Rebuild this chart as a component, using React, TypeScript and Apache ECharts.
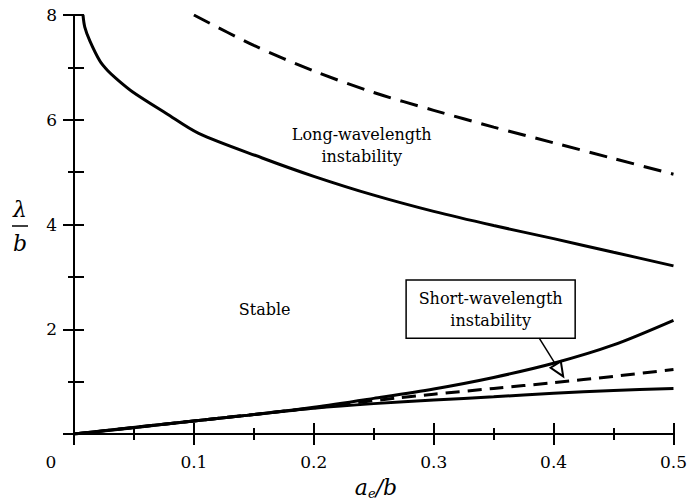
import React, { useEffect, useRef } from "react";
import * as echarts from "echarts";

const FONT = "DejaVu Serif";

// Long-wavelength boundaries
const longSolid: [number, number][] = [
  [0.0075, 8], [0.009, 7.77], [0.0133, 7.5], [0.0216, 7.12], [0.028, 6.94], [0.0355, 6.78], [0.049, 6.53],
  [0.077, 6.12], [0.104, 5.74], [0.157, 5.27], [0.2, 4.92], [0.25, 4.56], [0.3, 4.25],
  [0.35, 3.98], [0.4, 3.73], [0.45, 3.47], [0.5, 3.21],
];
const longDashed: [number, number][] = [
  [0.1, 8], [0.15, 7.42], [0.2, 6.93], [0.25, 6.52], [0.3, 6.18], [0.35, 5.86],
  [0.4, 5.56], [0.45, 5.26], [0.5, 4.96],
];
// Short-wavelength boundaries
const shortUpper: [number, number][] = [
  [0, 0], [0.05, 0.12], [0.1, 0.25], [0.15, 0.37], [0.2, 0.51], [0.25, 0.68],
  [0.3, 0.86], [0.35, 1.08], [0.4, 1.35], [0.45, 1.7], [0.5, 2.17],
];
const shortDashed: [number, number][] = [
  [0, 0], [0.1, 0.25], [0.2, 0.5], [0.27, 0.69], [0.3, 0.76], [0.35, 0.87],
  [0.4, 0.98], [0.45, 1.1], [0.5, 1.23],
];
const shortLower: [number, number][] = [
  [0, 0], [0.1, 0.25], [0.15, 0.37], [0.2, 0.49], [0.25, 0.58], [0.3, 0.65],
  [0.35, 0.71], [0.4, 0.78], [0.45, 0.83], [0.5, 0.87],
];

const labelLong = "Long-wavelength\ninstability";
const labelStable = "Stable";
const labelShort = "Short-wavelength\ninstability";

export default function App() {
  const ref = useRef<HTMLDivElement>(null);
  useEffect(() => {
    if (!ref.current) return;
    const chart = echarts.init(ref.current, undefined, { renderer: "svg" });
    const axisLine = { show: true, lineStyle: { color: "#000", width: 2 } };
    const tick = { show: true, length: 11, lineStyle: { color: "#000", width: 2 } };
    const minor = { show: true, splitNumber: 2, length: 6, lineStyle: { color: "#000", width: 2 } };
    const lineSeries = (data: [number, number][], dashed: boolean, dash: number[] = [18, 10]) => ({
      type: "line",
      data,
      smooth: 0.3,
      showSymbol: false,
      symbol: "none",
      lineStyle: { color: "#000", width: 3, type: dashed ? dash : "solid" },
      z: 3,
    });
    chart.setOption({
      animation: false,
      backgroundColor: "#fff",
      grid: { left: 74, top: 15, right: 13, bottom: 68 },
      xAxis: [
        {
          type: "value", min: 0, max: 0.5, interval: 0.1, position: "bottom",
          axisLine, axisTick: tick, minorTick: minor, splitLine: { show: false },
          axisLabel: {
            color: "#000", fontFamily: FONT, fontSize: 17, margin: 19,
            formatter: (v: number) => (v === 0 ? "" : String(Number(v.toFixed(1)))),
            showMaxLabel: true,
          },
        },
        {
          type: "value", min: 0, max: 0.5, interval: 0.1, position: "top",
          axisLine, axisTick: tick, minorTick: minor, splitLine: { show: false },
          axisLabel: { show: false },
        },
      ],
      yAxis: [
        {
          type: "value", min: 0, max: 8, interval: 2, position: "left",
          axisLine, axisTick: tick, minorTick: minor, splitLine: { show: false },
          axisLabel: {
            color: "#000", fontFamily: FONT, fontSize: 17, margin: 17,
            formatter: (v: number) => (v === 0 ? "" : String(v)),
          },
        },
        {
          type: "value", min: 0, max: 8, interval: 2, position: "right",
          axisLine, axisTick: { ...tick, length: 10 }, minorTick: { ...minor, length: 10 },
          splitLine: { show: false }, axisLabel: { show: false },
        },
      ],
      series: [
        lineSeries(longSolid, false),
        lineSeries(longDashed, true),
        lineSeries(shortUpper, false),
        lineSeries(shortDashed, true, [14, 8]),
        lineSeries(shortLower, false),
      ],
    });

    const px = (x: number, y: number) => chart.convertToPixel({ xAxisIndex: 0, yAxisIndex: 0 }, [x, y]) as number[];
    const [ox, oy] = px(0, 0);
    const longPos = px(0.24, 5.5);
    const stablePos = px(0.159, 2.37);
    const boxTL = px(0.277, 2.94);
    const boxBR = px(0.418, 1.83);
    const arrowStart = px(0.388, 1.83);
    const arrowEnd = px(0.408, 1.1);
    const dx = arrowEnd[0] - arrowStart[0];
    const dy = arrowEnd[1] - arrowStart[1];
    const len = Math.sqrt(dx * dx + dy * dy);
    const ux = dx / len, uy = dy / len;
    const hl = 14, hw = 6;
    const bx = arrowEnd[0] - ux * hl, by = arrowEnd[1] - uy * hl;
    const textStyle = (t: string, x: number, y: number, size = 16, italic = false, lh = 22) => ({
      type: "text",
      x, y,
      style: {
        text: t, fill: "#000", font: `${italic ? "italic " : ""}${size}px ${FONT}`,
        textAlign: "center", textVerticalAlign: "middle", lineHeight: lh,
      },
      z: 10,
    });
    chart.setOption({
      graphic: [
        textStyle("0", ox - 23, oy + 28, 17),
        textStyle(labelLong, longPos[0], longPos[1]),
        textStyle(labelStable, stablePos[0], stablePos[1]),
        {
          type: "rect",
          shape: { x: boxTL[0], y: boxTL[1], width: boxBR[0] - boxTL[0], height: boxBR[1] - boxTL[1] },
          style: { fill: "#fff", stroke: "#000", lineWidth: 1.5 },
          z: 9,
        },
        textStyle(labelShort, (boxTL[0] + boxBR[0]) / 2, (boxTL[1] + boxBR[1]) / 2),
        {
          type: "line",
          shape: { x1: arrowStart[0], y1: arrowStart[1], x2: bx, y2: by },
          style: { stroke: "#000", lineWidth: 1.5 },
          z: 10,
        },
        {
          type: "polygon",
          shape: {
            points: [
              [arrowEnd[0], arrowEnd[1]],
              [bx - uy * hw, by + ux * hw],
              [bx + uy * hw, by - ux * hw],
            ],
          },
          style: { fill: "#fff", stroke: "#000", lineWidth: 2 },
          z: 10,
        },
        // axis titles
        textStyle("λ", 20, 209, 22, true, 24),
        {
          type: "line",
          shape: { x1: 12, y1: 226, x2: 28, y2: 226 },
          style: { stroke: "#000", lineWidth: 1.5 },
        },
        textStyle("b", 20, 243, 22, true, 24),
        {
          type: "text",
          x: 376, y: 487,
          style: {
            text: "{a|a}{e|e}{a|/b}",
            textAlign: "center", textVerticalAlign: "middle",
            rich: {
              a: { fontFamily: FONT, fontStyle: "italic", fontSize: 22, lineHeight: 26, verticalAlign: "middle", fill: "#000" },
              e: { fontFamily: FONT, fontStyle: "italic", fontSize: 13, lineHeight: 26, verticalAlign: "bottom", fill: "#000" },
            },
          },
          z: 10,
        },
      ],
    });
    return () => chart.dispose();
  }, []);
  return (
    <div
      ref={ref}
      style={{ position: "absolute", left: 0, top: 0, width: 690, height: 502 }}
    />
  );
}
